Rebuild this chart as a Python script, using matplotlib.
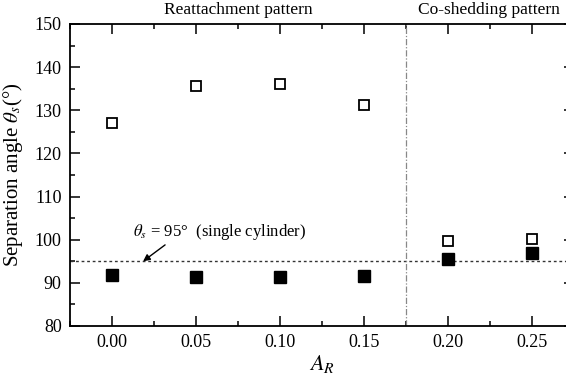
import matplotlib

matplotlib.use("Agg")
import matplotlib.pyplot as plt
from matplotlib.ticker import MultipleLocator

plt.rcParams["font.family"] = ["Liberation Serif", "DejaVu Serif"]
plt.rcParams["mathtext.fontset"] = "stix"

# data
ar = [0.00, 0.05, 0.10, 0.15, 0.20, 0.25]
theta_open = [127.0, 135.6, 136.1, 131.3, 99.8, 100.2]
theta_filled = [91.8, 91.4, 91.4, 91.6, 95.5, 96.9]
single_cyl = 95
pattern_split = 0.175

fig = plt.figure(figsize=(5.66, 3.77), dpi=100)
ax = fig.add_axes([70 / 566, 51 / 377, 504 / 566, 302 / 377])

ax.plot(ar, theta_open, "s", ms=7, mfc="white", mec="black", mew=1.3, zorder=3)
ax.plot(ar, theta_filled, "s", ms=8.5, mfc="black", mec="black", zorder=3)

ax.axhline(single_cyl, color="#333333", lw=1.0, ls=(0, (2, 2)))
ax.axvline(pattern_split, color="#888888", lw=0.9, ls=(0, (5, 1.5, 1, 1.5)))

# arrow and note for the single cylinder reference
ax.annotate("", xy=(0.0185, single_cyl), xytext=(0.0316, 98.8),
            arrowprops=dict(arrowstyle="-|>", color="black", lw=1.0,
                            mutation_scale=10, shrinkA=0, shrinkB=0))
ax.text(0.0125, 100.9, r"$\theta_s$ = 95°  (single cylinder)", fontsize=12,
        ha="left", va="baseline")

ax.text(0.075, 151.4, "Reattachment pattern", ha="center", va="bottom", fontsize=12.5)
ax.text(0.2245, 151.4, "Co-shedding pattern", ha="center", va="bottom", fontsize=12.5)

ax.set_xlim(-0.025, 0.275)
ax.set_ylim(80, 150)
ax.xaxis.set_major_locator(MultipleLocator(0.05))
ax.xaxis.set_minor_locator(MultipleLocator(0.025))
ax.yaxis.set_major_locator(MultipleLocator(10))
ax.yaxis.set_minor_locator(MultipleLocator(5))
ax.xaxis.set_major_formatter(plt.FormatStrFormatter("%.2f"))

ax.tick_params(which="both", direction="in", top=True, right=True, labelsize=13,
               width=1.1)
ax.tick_params(which="major", length=7, pad=6)
ax.tick_params(which="minor", length=3.5)
for s in ax.spines.values():
    s.set_linewidth(1.3)

ax.set_xlabel(r"$A_R$", fontsize=16, labelpad=1)
ax.set_ylabel(r"Separation angle $\theta_s$(°)", fontsize=15)
ax.yaxis.set_label_coords(-0.09, 0.5)

fig.savefig("out.png", dpi=100)
